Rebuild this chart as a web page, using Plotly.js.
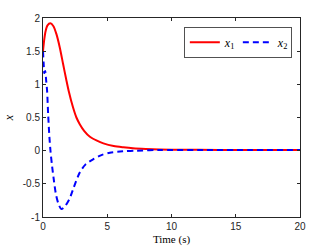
<!DOCTYPE html>
<html>
<head>
<meta charset="utf-8">
<script src="https://cdn.plot.ly/plotly-3.0.1.min.js"></script>
<style>html,body{margin:0;padding:0;background:#fff;}#chart{width:332px;height:249px;}</style>
</head>
<body>
<div id="chart"></div>
<script>
const t1 = [0, 0.1, 0.2, 0.35, 0.57, 0.8, 1.04, 1.3, 1.56, 1.8, 2.0, 2.34, 2.6, 2.86, 3.2, 3.65, 4.2, 4.7, 5.5, 6.25, 7, 8, 10, 12, 15, 20];
const x1 = [1.5, 1.68, 1.80, 1.89, 1.92, 1.88, 1.76, 1.56, 1.31, 1.08, 0.9, 0.65, 0.5, 0.4, 0.3, 0.21, 0.15, 0.11, 0.07, 0.05, 0.035, 0.025, 0.015, 0.012, 0.01, 0.01];
const t2 = [0, 0.05, 0.1, 0.17, 0.25, 0.32, 0.4, 0.5, 0.58, 0.7, 0.85, 1.0, 1.2, 1.43, 1.65, 1.85, 2.08, 2.4, 2.86, 3.3, 3.9, 4.5, 5.2, 6.2, 7.3, 9, 12, 20];
const x2 = [1.5, 1.32, 1.17, 1.2, 1.05, 0.9, 0.55, 0.2, 0.0, -0.22, -0.45, -0.65, -0.8, -0.88, -0.85, -0.8, -0.72, -0.55, -0.33, -0.21, -0.13, -0.07, -0.03, -0.01, 0.0, 0.01, 0.01, 0.01];
const xTicks = [0, 5, 10, 15, 20];
const yTicks = [-1, -0.5, 0, 0.5, 1, 1.5, 2];
const yTickText = ['-1', '-0.5', '0', '0.5', '1', '1.5', '2'];

const axisCol = '#262626';
const serif = 'Liberation Serif';
const tickFont = {family: 'Liberation Sans', size: 10, color: axisCol};
const traces = [
  {x: t1, y: x1, type: 'scatter', mode: 'lines', name: '<i>x</i><sub>1</sub>',
   line: {color: '#ff0000', width: 2, shape: 'spline', smoothing: 0.8}},
  {x: t2, y: x2, type: 'scatter', mode: 'lines', name: '<i>x</i><sub>2</sub>',
   line: {color: '#0000ff', width: 2, dash: '6px,4px', shape: 'spline', smoothing: 0.8}}
];
const layout = {
  width: 332, height: 249,
  margin: {l: 43, r: 32, t: 18, b: 32},
  paper_bgcolor: '#fff', plot_bgcolor: '#fff',
  showlegend: true,
  legend: {orientation: 'h', x: 0.969, xanchor: 'right', y: 0.955, yanchor: 'top',
    bgcolor: '#fff', bordercolor: axisCol, borderwidth: 0.8, itemwidth: 30,
    entrywidth: 8, entrywidthmode: 'pixels',
    font: {family: serif, size: 12, color: '#000', weight: 'normal'},
    tracegroupgap: 0},
  xaxis: {range: [0, 20], tickvals: xTicks, ticktext: xTicks.map(String),
    showline: true, linecolor: axisCol, linewidth: 1, mirror: 'ticks',
    ticks: 'inside', ticklen: 3, tickcolor: axisCol, showgrid: false, zeroline: false,
    tickfont: tickFont,
    title: {text: 'Time (s)', standoff: 4, font: {family: serif, size: 11, color: '#000', weight: 'normal'}}},
  yaxis: {range: [-1, 2], tickvals: yTicks, ticktext: yTickText,
    showline: true, linecolor: axisCol, linewidth: 1, mirror: 'ticks',
    ticks: 'inside', ticklen: 3, tickcolor: axisCol, showgrid: false, zeroline: false,
    tickfont: tickFont,
    title: {text: '<i>x</i>', standoff: 6, font: {family: serif, size: 12, color: '#000', weight: 'normal'}}}
};
Plotly.newPlot('chart', traces, layout, {displayModeBar: false, staticPlot: true});
</script>
</body>
</html>
